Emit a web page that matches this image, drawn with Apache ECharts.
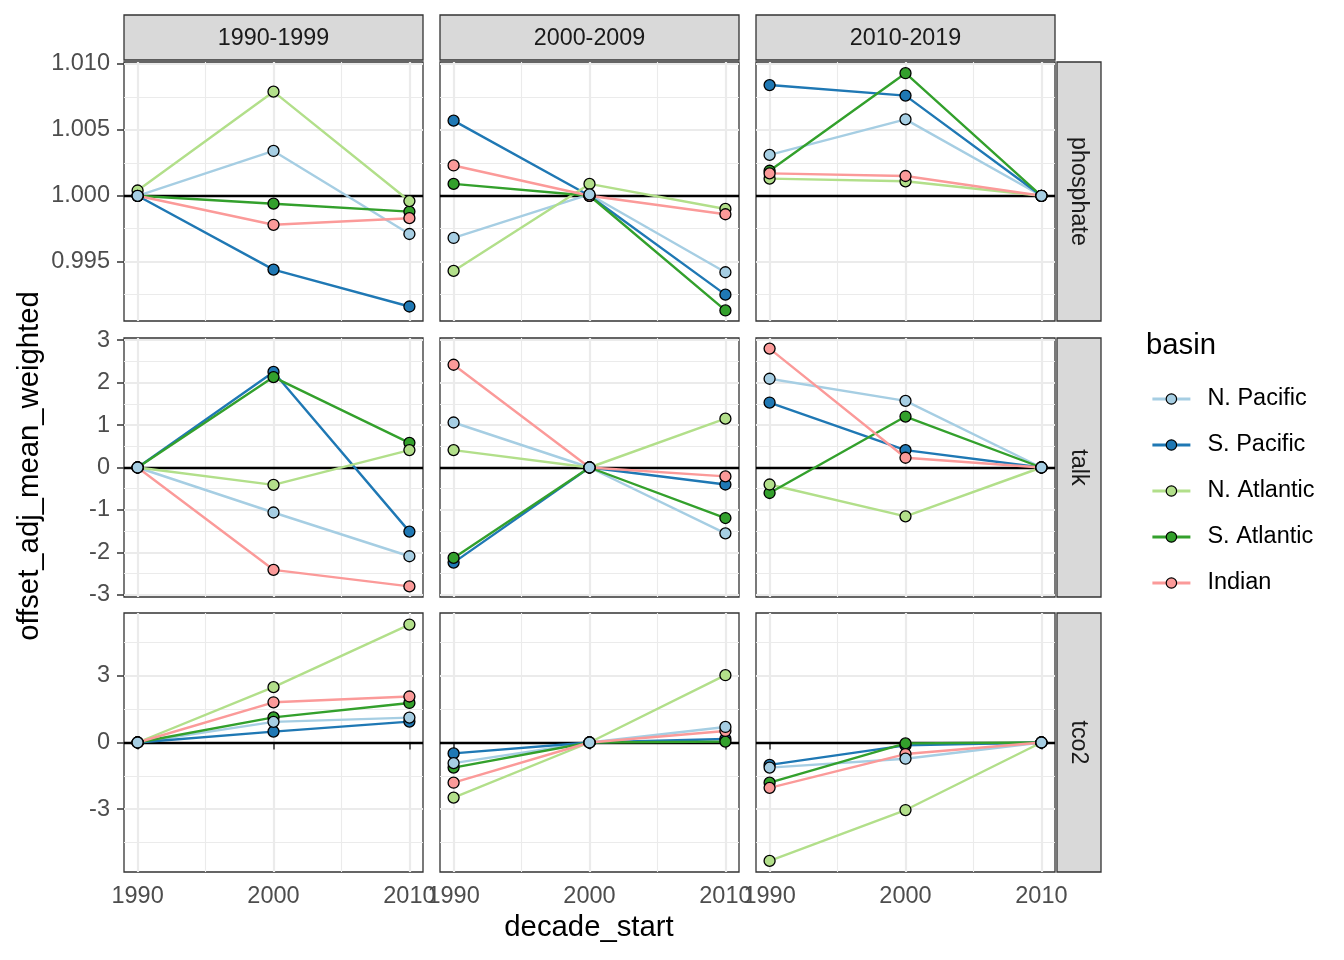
<!DOCTYPE html>
<html><head><meta charset="utf-8">
<script src="https://cdn.jsdelivr.net/npm/echarts@6/dist/echarts.min.js"></script>
<style>html,body{margin:0;padding:0;background:#fff}#c{width:1344px;height:960px}</style>
</head><body><div id="c"></div><script>
// ---- data ----
const decades = ['1990-1999', '2000-2009', '2010-2019'];
const params = ['phosphate', 'talk', 'tco2'];
const years = [1990, 2000, 2010];
const basins = ['N. Pacific', 'S. Pacific', 'N. Atlantic', 'S. Atlantic', 'Indian'];
const basinColors = ['#A6CEE3', '#1F78B4', '#B2DF8A', '#33A02C', '#FB9A99'];

// rows: basins (N. Pacific, S. Pacific, N. Atlantic, S. Atlantic, Indian); columns: 1990, 2000, 2010
const phosphate_1990 = [[1.0000, 1.0034, 0.9971], [1.0000, 0.9944, 0.9916], [1.0004, 1.0079, 0.9996], [1.0000, 0.9994, 0.9988], [1.0000, 0.9978, 0.9983]];
const phosphate_2000 = [[0.9968, 1.0001, 0.9942], [1.0057, 1.0000, 0.9925], [0.9943, 1.0009, 0.9990], [1.0009, 1.0000, 0.9913], [1.0023, 1.0000, 0.9986]];
const phosphate_2010 = [[1.0031, 1.0058, 1.0000], [1.0084, 1.0076, 1.0000], [1.0013, 1.0011, 1.0000], [1.0019, 1.0093, 1.0000], [1.0017, 1.0015, 1.0000]];
const talk_1990 = [[0, -1.06, -2.09], [0, 2.25, -1.51], [0, -0.41, 0.41], [0, 2.13, 0.58], [0, -2.41, -2.80]];
const talk_2000 = [[1.06, 0, -1.55], [-2.24, 0, -0.40], [0.41, 0, 1.15], [-2.13, 0, -1.19], [2.42, 0, -0.21]];
const talk_2010 = [[2.09, 1.57, 0], [1.53, 0.41, 0], [-0.40, -1.15, 0], [-0.60, 1.20, 0], [2.80, 0.23, 0]];
const tco2_1990 = [[0, 0.93, 1.12], [0, 0.49, 0.94], [0, 2.49, 5.31], [0, 1.13, 1.78], [0, 1.81, 2.07]];
const tco2_2000 = [[-0.93, 0, 0.70], [-0.49, 0, 0.16], [-2.48, 0, 3.03], [-1.13, 0, 0.04], [-1.81, 0, 0.52]];
const tco2_2010 = [[-1.13, -0.73, 0], [-1.01, -0.13, 0], [-5.33, -3.04, 0], [-1.81, -0.04, 0], [-2.04, -0.52, 0]];

const xMajor = [1990, 2000, 2010];
const xMinor = [1995, 2005];
const xRange = [1989, 2011];
const yMajorPhosphate = [0.995, 1.000, 1.005, 1.010];
const yMinorPhosphate = [0.9925, 0.9975, 1.0025, 1.0075];
const yMajorTalk = [-3, -2, -1, 0, 1, 2, 3];
const yMinorTalk = [-2.5, -1.5, -0.5, 0.5, 1.5, 2.5];
const yMajorTco2 = [-3, 0, 3];
const yMinorTco2 = [-4.5, -1.5, 1.5, 4.5];
const yRangePhosphate = [0.9905, 1.01015];
const yRangeTalk = [-3.05, 3.05];
const yRangeTco2 = [-5.83, 5.83];
const refValues = [1, 0, 0];

// ---- assembly ----
const values = [
  [phosphate_1990, phosphate_2000, phosphate_2010],
  [talk_1990, talk_2000, talk_2010],
  [tco2_1990, tco2_2000, tco2_2010]
];
const yMajor = [yMajorPhosphate, yMajorTalk, yMajorTco2];
const yMinor = [yMinorPhosphate, yMinorTalk, yMinorTco2];
const yRange = [yRangePhosphate, yRangeTalk, yRangeTco2];
const yFmt = [v => v.toFixed(3), v => String(Math.round(v)), v => String(Math.round(v))];

const FONT = 'Liberation Sans, Arial, sans-serif';
const colLeft = [124, 440, 756];
const colW = 299;
const rowTop = [62, 338, 613];
const rowH = 259;
const pointOrder = [1, 3, 2, 4, 0];

const grids = [], xAxes = [], yAxes = [], series = [], scatters = [];
for (let r = 0; r < 3; r++) {
  for (let c = 0; c < 3; c++) {
    const gi = r * 3 + c;
    grids.push({left: colLeft[c], top: rowTop[r], width: colW, height: rowH, show: true,
      backgroundColor: '#fff', borderColor: '#333333', borderWidth: 1.3, containLabel: false, outerBoundsMode: 'none'});
    xAxes.push({gridIndex: gi, type: 'value', min: xRange[0], max: xRange[1], position: 'bottom',
      axisLine: {show: false},
      axisTick: {show: r === 2, customValues: xMajor, length: 7, lineStyle: {color: '#333333', width: 1.5}},
      axisLabel: {show: r === 2, customValues: xMajor, margin: 13, color: '#4D4D4D', fontSize: 23.5, fontFamily: FONT,
        formatter: v => String(v)},
      splitLine: {show: true, lineStyle: {color: '#EBEBEB', width: 2.2}}});
    xAxes.push({gridIndex: gi, type: 'value', min: xRange[0], max: xRange[1], position: 'top',
      axisLine: {show: false},
      axisTick: {show: false, customValues: xMinor},
      axisLabel: {show: false, customValues: xMinor},
      splitLine: {show: true, lineStyle: {color: '#EBEBEB', width: 1.1}}});
    yAxes.push({gridIndex: gi, type: 'value', min: yRange[r][0], max: yRange[r][1], position: 'left',
      axisLine: {show: false},
      axisTick: {show: c === 0, customValues: yMajor[r], length: 7, lineStyle: {color: '#333333', width: 1.5}},
      axisLabel: {show: c === 0, customValues: yMajor[r], margin: 14, color: '#4D4D4D', fontSize: 23.5, fontFamily: FONT,
        formatter: yFmt[r]},
      splitLine: {show: true, lineStyle: {color: '#EBEBEB', width: 2.2}}});
    yAxes.push({gridIndex: gi, type: 'value', min: yRange[r][0], max: yRange[r][1], position: 'right',
      axisLine: {show: false},
      axisTick: {show: false, customValues: yMinor[r]},
      axisLabel: {show: false, customValues: yMinor[r]},
      splitLine: {show: true, lineStyle: {color: '#EBEBEB', width: 1.1}}});
    const vals = values[r][c];
    for (let b = 0; b < basins.length; b++) {
      const data = years.map((y, k) => [y, vals[b][k]]);
      const s = {type: 'line', name: basins[b], xAxisIndex: gi * 2, yAxisIndex: gi * 2, data: data,
        showSymbol: false, symbol: 'circle', symbolSize: 11, z: 3, silent: true, animation: false,
        emphasis: {disabled: true},
        lineStyle: {color: basinColors[b], width: 2.4},
        itemStyle: {color: basinColors[b], borderColor: '#000', borderWidth: 1}};
      if (b === 0) {
        s.markLine = {silent: true, z: 2.5, symbol: ['none', 'none'], animation: false, label: {show: false},
          lineStyle: {color: '#000', width: 2.4, type: 'solid'}, emphasis: {disabled: true},
          data: [{yAxis: refValues[r]}]};
      }
      series.push(s);
    }
    for (const b of pointOrder) {
      scatters.push({type: 'scatter', name: basins[b], xAxisIndex: gi * 2, yAxisIndex: gi * 2,
        data: years.map((y, k) => [y, vals[b][k]]), symbol: 'circle', symbolSize: 11, z: 4,
        silent: true, animation: false, emphasis: {disabled: true},
        itemStyle: {color: basinColors[b], borderColor: '#000', borderWidth: 1.3, opacity: 1}});
    }
  }
}

const graphics = [];
for (let c = 0; c < 3; c++) {
  graphics.push({type: 'rect', z: 10, shape: {x: colLeft[c], y: 15, width: colW, height: 45},
    style: {fill: '#D9D9D9', stroke: '#333333', lineWidth: 1.3}});
  graphics.push({type: 'text', z: 11, x: colLeft[c] + colW / 2, y: 39,
    style: {text: decades[c], fontSize: 23.3, fontFamily: FONT, fill: '#1A1A1A',
      align: 'center', verticalAlign: 'middle', textAlign: 'center', textVerticalAlign: 'middle'}});
}
for (let r = 0; r < 3; r++) {
  graphics.push({type: 'rect', z: 10, shape: {x: 1057, y: rowTop[r], width: 44, height: rowH},
    style: {fill: '#D9D9D9', stroke: '#333333', lineWidth: 1.3}});
  graphics.push({type: 'text', z: 11, x: 1078, y: rowTop[r] + rowH / 2, rotation: -Math.PI / 2,
    style: {text: params[r], fontSize: 23.3, fontFamily: FONT, fill: '#1A1A1A',
      align: 'center', verticalAlign: 'middle', textAlign: 'center', textVerticalAlign: 'middle'}});
}
graphics.push({type: 'text', z: 11, x: 589, y: 928,
  style: {text: 'decade_start', fontSize: 29.3, fontFamily: FONT, fill: '#000',
    align: 'center', verticalAlign: 'middle', textAlign: 'center', textVerticalAlign: 'middle'}});
graphics.push({type: 'text', z: 11, x: 30, y: 466, rotation: Math.PI / 2,
  style: {text: 'offset_adj_mean_weighted', fontSize: 29.3, fontFamily: FONT, fill: '#000',
    align: 'center', verticalAlign: 'middle', textAlign: 'center', textVerticalAlign: 'middle'}});
graphics.push({type: 'text', z: 11, x: 1146, y: 346,
  style: {text: 'basin', fontSize: 29.3, fontFamily: FONT, fill: '#000',
    align: 'left', verticalAlign: 'middle', textAlign: 'left', textVerticalAlign: 'middle'}});

const chart = echarts.init(document.getElementById('c'), null, {renderer: 'canvas'});
chart.setOption({
  animation: false,
  backgroundColor: '#fff',
  grid: grids,
  xAxis: xAxes,
  yAxis: yAxes,
  legend: {orient: 'vertical', left: 1146, top: 382, padding: 5, itemWidth: 38, itemHeight: 13, itemGap: 22,
    selectedMode: false, data: basins,
    itemStyle: {borderColor: '#000', borderWidth: 1.2},
    lineStyle: {width: 2.8},
    textStyle: {fontSize: 23.5, fontFamily: FONT, color: '#000', lineHeight: 23, padding: [0, 0, 0, 12]}},
  series: series.concat(scatters),
  graphic: graphics
});
</script></body></html>
